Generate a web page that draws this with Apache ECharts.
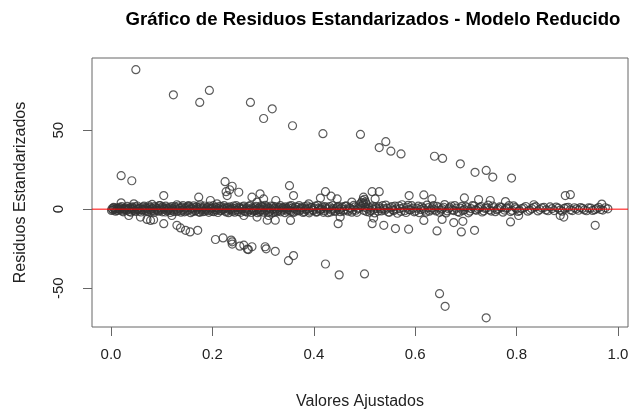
<!DOCTYPE html>
<html>
<head>
<meta charset="utf-8">
<script src="https://cdn.jsdelivr.net/npm/echarts@6.0.0/dist/echarts.min.js"></script>
<style>
  html, body { margin: 0; padding: 0; background: #fff; }
  #myChart { width: 633px; height: 415px; }
</style>
</head>
<body>
<div id="myChart"></div>
<script>
// fitted value, standardized residual
var bandLeft = [
  [0.002,0.3],[0.004,-0.5],[0.006,0.8],[0.008,-0.2],[0.010,0.5],[0.012,-0.9],[0.014,0.1],[0.016,1.2],
  [0.018,-0.4],[0.020,0.6],[0.022,-1.1],[0.025,0.2],[0.027,-0.3],[0.029,0.9],[0.031,-0.7],[0.034,0.4],
  [0.036,-1.4],[0.038,1.0],[0.041,-0.1],[0.043,0.7],[0.046,-0.8],[0.048,1.5],[0.051,-0.3],[0.053,0.2],
  [0.056,-1.2],[0.058,0.8],[0.061,-0.5],[0.063,1.3],[0.066,0.0],[0.068,-0.9],[0.071,0.5],[0.073,-1.6],
  [0.076,1.1],[0.078,-0.2],[0.081,0.6],[0.084,-1.0],[0.086,1.7],[0.089,-0.4],[0.091,0.3],[0.094,-1.3],
  [0.097,0.9],[0.099,-0.6],[0.102,1.4],[0.105,-0.1],[0.107,-1.8],[0.110,0.7],[0.113,-0.3],[0.115,1.2],
  [0.118,-0.9],[0.121,0.4],[0.124,-1.5],[0.126,1.6],[0.129,0.0],[0.132,-0.7],[0.135,0.8],[0.138,-1.9],
  [0.140,1.3],[0.143,-0.4],[0.146,0.5],[0.149,-1.1],[0.152,1.8],[0.155,-0.2],[0.158,0.6],[0.161,-1.4],
  [0.164,1.0],[0.167,-0.8],[0.170,0.2],[0.173,-1.7],[0.176,1.5],[0.179,-0.5],[0.182,0.9],[0.185,-1.2],
  [0.188,0.3],[0.191,-0.9],[0.194,1.9],[0.197,-0.1],[0.200,0.7],[0.203,-1.6],[0.206,1.1],[0.209,-0.6],
  [0.212,0.4],[0.215,-1.0],[0.218,1.6],[0.221,-0.3],[0.224,0.8],[0.227,-1.8],[0.230,1.2],[0.233,-0.4],
  [0.236,0.2],[0.239,-1.3],[0.242,2.0],[0.245,-0.7],[0.248,0.9],[0.251,-1.5],[0.254,0.5],[0.257,-0.2],
  [0.260,1.4],[0.263,-1.1],[0.266,0.1],[0.269,-1.9],[0.272,1.7],[0.275,-0.5],[0.278,0.6],[0.281,-1.2],
  [0.284,1.0],[0.287,-0.8],[0.290,0.3],[0.293,-1.6],[0.296,2.1],[0.299,-0.3],[0.302,0.8],[0.305,-1.0],
  [0.308,1.3],[0.311,-2.0],[0.314,0.4],[0.317,-0.6],[0.320,1.8],[0.323,-1.4],[0.326,0.0],[0.329,-0.9],
  [0.332,1.1],[0.335,-1.7],[0.338,0.6],[0.341,-0.2],[0.344,1.5],[0.347,-1.2],[0.350,0.9],[0.353,-0.7],
  [0.356,2.2],[0.359,-1.8],[0.362,0.3],[0.366,-0.4],[0.369,1.2],[0.372,-1.1],[0.375,0.7],[0.379,-2.1],
  [0.382,1.6],[0.385,-0.5],[0.389,0.2],[0.392,-1.3],[0.396,1.0],[0.399,-0.8],[0.403,1.9],[0.406,-1.6],
  [0.410,0.5],[0.413,-0.1],[0.417,1.4],[0.420,-1.0],[0.424,0.8],[0.428,-2.2],[0.431,1.7],[0.435,-0.6],
  [0.438,0.3],[0.442,-1.4],[0.446,1.1],[0.450,-0.3]
];

var bandLeft2 = [
  [0.001,-0.8],[0.005,1.1],[0.009,-1.3],[0.013,0.7],[0.017,-0.1],[0.021,1.6],[0.024,-1.7],[0.028,0.4],
  [0.032,1.8],[0.035,-0.2],[0.039,-1.9],[0.042,1.4],[0.045,0.1],[0.049,-1.4],[0.052,2.0],[0.055,0.5],
  [0.059,-1.8],[0.062,-0.2],[0.065,1.9],[0.069,0.9],[0.072,-0.6],[0.075,2.1],[0.079,-1.3],[0.082,0.1],
  [0.085,-2.0],[0.088,1.0],[0.092,-0.9],[0.095,2.2],[0.098,0.2],[0.101,-1.7],[0.104,0.6],[0.108,1.9],
  [0.111,-1.1],[0.114,0.3],[0.117,-2.1],[0.120,1.7],[0.123,-0.5],[0.127,0.9],[0.130,-1.4],[0.133,2.0],
  [0.136,0.4],[0.139,-0.9],[0.142,2.2],[0.145,-1.7],[0.148,0.9],[0.151,-0.6],[0.154,1.3],[0.157,-2.2],
  [0.160,0.2],[0.163,2.1],[0.166,-1.2],[0.169,1.4],[0.172,0.8],[0.175,-2.0],[0.178,0.3],[0.181,-1.6],
  [0.184,2.0],[0.187,-0.4],[0.190,1.2],[0.193,-2.0],[0.196,0.6],[0.199,-1.3],[0.202,2.2],[0.205,-0.3],
  [0.208,0.9],[0.211,-2.1],[0.214,1.8],[0.217,-0.7],[0.220,0.2],[0.223,2.3],[0.226,-1.2],[0.229,0.5],
  [0.232,-2.2],[0.235,1.5],[0.238,-0.2],[0.241,0.7],[0.244,-1.9],[0.247,2.2],[0.250,-0.4],[0.253,1.3],
  [0.256,-2.0],[0.259,0.4],[0.262,2.0],[0.265,-1.5],[0.268,0.8],[0.271,-0.6],[0.274,2.3],[0.277,-2.1],
  [0.280,0.2],[0.283,-0.9],[0.286,1.8],[0.289,-2.2],[0.292,0.9],[0.295,-0.5],[0.298,1.4],[0.301,-1.9],
  [0.304,2.4],[0.307,-0.2],[0.310,0.7],[0.313,-1.4],[0.316,2.0],[0.319,-2.3],[0.322,0.4],[0.325,1.5],
  [0.328,-1.6],[0.331,0.1],[0.334,2.2],[0.337,-0.7],[0.340,1.0],[0.343,-2.2],[0.346,0.5],[0.349,-0.3],
  [0.352,1.9],[0.355,-1.4],[0.358,0.8],[0.361,-2.0],[0.364,1.5],[0.367,-1.0],[0.371,2.3],[0.374,-0.2],
  [0.377,0.9],[0.381,-1.6],[0.384,0.3],[0.387,2.1],[0.391,-2.3],[0.394,1.2],[0.398,-0.4],[0.401,0.6],
  [0.405,-1.9],[0.408,2.4],[0.412,-0.8],[0.415,0.2],[0.419,-2.0],[0.422,1.6],[0.426,-0.1],[0.429,0.9],
  [0.433,-1.8],[0.437,2.2],[0.440,-0.9],[0.444,0.4],[0.448,1.8]
];

var bandRight = [
  [0.454,0.6],[0.458,-1.2],[0.462,1.8],[0.466,-0.4],[0.470,0.9],[0.475,-1.9],[0.479,2.4],[0.483,-0.7],
  [0.487,0.2],[0.491,3.1],[0.494,4.2],[0.496,5.5],[0.498,3.8],[0.500,6.2],[0.502,4.6],[0.504,-1.5],
  [0.508,1.3],[0.512,-0.8],[0.516,2.0],[0.520,-2.4],[0.524,0.5],[0.529,1.6],[0.533,-1.1],[0.538,0.3],
  [0.542,2.6],[0.547,-1.8],[0.551,0.9],[0.556,-0.5],[0.560,1.9],[0.565,-2.6],[0.570,0.4],[0.574,2.8],
  [0.579,-1.0],[0.584,1.2],[0.588,-0.3],[0.593,2.2],[0.598,-1.7],[0.603,0.6],[0.608,-2.2],[0.613,1.5],
  [0.618,-0.6],[0.623,2.5],[0.628,-1.3],[0.633,0.8],[0.638,-0.2],[0.643,1.8],[0.648,-2.0],[0.653,0.3],
  [0.658,2.9],[0.663,-1.1],[0.668,1.0],[0.673,-0.5],[0.678,2.3],[0.684,-1.6],[0.689,0.7],[0.694,-0.9],
  [0.700,1.6],[0.705,-2.3],[0.710,0.4],[0.716,2.0],[0.721,-0.7],[0.727,1.1],[0.732,-1.8],[0.738,0.5],
  [0.744,2.6],[0.750,-1.2],[0.755,0.9],[0.761,-0.3],[0.767,1.5],[0.773,-1.9],[0.779,0.6],[0.785,2.3],
  [0.791,-0.8],[0.797,1.0],[0.803,-1.4],[0.810,0.4],[0.818,1.7],[0.826,-0.6],[0.834,1.2],[0.842,-1.1],
  [0.850,0.8],[0.858,-0.5],[0.866,1.4],[0.874,-0.9],[0.882,0.6],[0.890,-1.3],[0.898,1.0],[0.906,-0.4],
  [0.914,0.9],[0.922,-0.7],[0.930,0.5],[0.938,-1.0],[0.946,0.7],[0.954,-0.3],[0.962,1.1],[0.970,-0.6],
  [0.980,0.2]
];

var bandRight2 = [
  [0.452,-1.6],[0.456,1.4],[0.460,-0.2],[0.464,2.1],[0.468,-1.3],[0.472,0.5],[0.477,-0.6],[0.481,1.5],
  [0.485,-2.0],[0.489,0.8],[0.493,1.9],[0.497,2.6],[0.499,-0.8],[0.501,1.2],[0.503,3.4],[0.506,0.3],
  [0.510,-1.9],[0.514,0.9],[0.518,-0.1],[0.522,1.4],[0.527,-1.2],[0.531,0.3],[0.536,2.2],[0.540,-0.7],
  [0.545,0.6],[0.549,-2.0],[0.554,1.6],[0.558,-0.9],[0.563,0.2],[0.568,2.0],[0.572,-1.4],[0.577,0.9],
  [0.582,-2.1],[0.586,2.4],[0.591,-0.5],[0.596,0.7],[0.601,-1.2],[0.606,1.9],[0.611,-0.2],[0.616,0.5],
  [0.621,-1.9],[0.626,1.0],[0.631,-0.4],[0.636,2.2],[0.641,-1.1],[0.646,0.9],[0.651,-0.6],[0.656,1.2],
  [0.661,-2.4],[0.666,0.2],[0.671,2.0],[0.676,-0.9],[0.681,0.6],[0.687,-2.0],[0.692,1.8],[0.697,-0.3],
  [0.703,0.9],[0.708,-1.3],[0.713,2.2],[0.719,-0.4],[0.724,0.3],[0.730,1.7],[0.735,-1.1],[0.741,0.8],
  [0.747,-0.5],[0.753,2.0],[0.758,-1.6],[0.764,0.3],[0.770,1.1],[0.776,-0.6],[0.782,0.9],[0.788,-1.5],
  [0.794,2.1],[0.800,0.2],[0.806,-0.9],[0.814,0.8],[0.822,-1.3],[0.830,0.3],[0.838,1.6],[0.846,-0.2],
  [0.854,1.1],[0.862,-1.0],[0.870,0.4],[0.878,1.3],[0.886,-0.6],[0.894,0.5],[0.902,1.2],[0.910,-0.9],
  [0.918,0.2],[0.926,1.0],[0.934,-0.5],[0.942,0.8],[0.950,-0.8],[0.958,0.4],[0.966,-0.2],[0.975,0.9]
];

var midScatter = [
  [0.020,4.0],[0.045,3.4],[0.081,3.0],[0.104,8.6],[0.097,2.3],[0.130,2.8],[0.173,7.6],[0.176,2.8],
  [0.196,5.5],[0.209,3.4],[0.153,2.3],[0.227,11.1],[0.229,8.6],[0.252,10.7],[0.278,7.6],[0.288,4.5],
  [0.301,6.5],[0.035,-4.0],[0.058,-5.0],[0.071,-6.5],[0.078,-7.1],[0.084,-6.7],[0.104,-9.2],[0.120,-4.0],
  [0.130,-10.2],[0.137,-11.9],[0.147,-13.4],[0.156,-14.4],[0.171,-13.4],[0.262,-4.0],[0.288,-5.0],
  [0.308,-7.0],[0.020,21.2],[0.041,18.0],[0.225,17.4],[0.239,14.5],[0.234,12.3],
  [0.294,9.7],[0.325,5.5],[0.311,-4.0],[0.324,-7.0],[0.352,14.9],[0.360,8.6],[0.354,-7.1],[0.390,3.4],
  [0.413,7.0],[0.423,11.1],[0.434,8.2],[0.446,6.5],[0.448,-9.2],[0.452,-5.0],[0.475,4.5],[0.498,7.6],
  [0.515,11.1],[0.529,11.1],[0.521,6.5],[0.515,-9.2],[0.538,-10.2],[0.518,-5.6],[0.561,-12.3],
  [0.587,-12.7],[0.588,8.6],[0.617,9.0],[0.633,6.5],[0.617,-7.1],[0.643,-13.8],[0.653,-6.5],
  [0.676,-8.5],[0.694,-7.7],[0.691,-14.4],[0.717,-13.4],[0.697,7.1],[0.725,6.1],[0.748,5.5],
  [0.778,4.8],[0.834,2.8],[0.896,8.6],[0.906,9.2],[0.968,3.2],[0.788,-8.1],[0.804,-4.0],
  [0.886,-4.0],[0.893,-5.0],[0.955,-10.2]
];

var upperOutliers = [
  [0.049,88.3],[0.123,72.4],[0.175,67.6],[0.194,75.2],[0.275,67.6],[0.301,57.4],[0.318,63.5],
  [0.358,52.8],[0.418,47.8],[0.492,47.3],[0.529,39.0],[0.542,42.7],[0.552,36.7],[0.572,35.0],
  [0.638,33.5],[0.654,32.1],[0.689,28.7],[0.718,23.3],[0.740,24.5],[0.753,20.3],[0.790,19.7]
];

var lowerOutliers = [
  [0.206,-19.2],[0.221,-18.2],[0.237,-19.6],[0.239,-22.1],[0.254,-23.4],[0.269,-25.3],[0.271,-25.6],
  [0.306,-25.1],[0.324,-26.7],[0.350,-32.6],[0.360,-29.4],[0.423,-34.7],[0.450,-41.6],[0.500,-41.0],
  [0.648,-53.5],[0.659,-61.5],[0.740,-68.8],[0.239,-20.7],[0.262,-22.8],[0.278,-23.8],[0.304,-23.8]
];

var xTicks = [0, 0.2, 0.4, 0.6, 0.8, 1.0];
var yTicks = [-50, 0, 50];
var xRange = [-0.0375, 1.0197];
var yRange = [-74.6, 95.7];
var refLineY = 0;

var allPoints = bandLeft.concat(bandLeft2, bandRight, bandRight2, midScatter, upperOutliers, lowerOutliers);

var myChart = echarts.init(document.getElementById('myChart'));

var option = {
  animation: false,
  textStyle: { fontFamily: 'Liberation Sans, Arial, sans-serif' },
  title: {
    text: 'Gráfico de Residuos Estandarizados - Modelo Reducido',
    left: 368,
    top: 5,
    textAlign: 'center',
    textStyle: { fontSize: 18.6, fontWeight: 'bold', color: '#000' }
  },
  grid: {
    show: true,
    left: 92,
    right: 5,
    top: 58,
    bottom: 86,
    borderColor: '#666',
    borderWidth: 1,
    backgroundColor: '#fff'
  },
  xAxis: {
    type: 'value',
    min: xRange[0],
    max: xRange[1],
    name: 'Valores Ajustados',
    nameLocation: 'middle',
    nameGap: 67,
    nameTextStyle: { fontSize: 16, color: '#222' },
    axisLine: { show: false, onZero: false },
    splitLine: { show: false },
    axisTick: { show: true, length: 9, customValues: xTicks, lineStyle: { color: '#666' } },
    axisLabel: {
      customValues: xTicks,
      margin: 20,
      fontSize: 15,
      color: '#222',
      formatter: function (v) { return v.toFixed(1); }
    }
  },
  yAxis: {
    type: 'value',
    min: yRange[0],
    max: yRange[1],
    name: 'Residuos Estandarizados',
    nameLocation: 'middle',
    nameRotate: 90,
    nameGap: 63,
    nameTextStyle: { fontSize: 16, color: '#222' },
    axisLine: { show: false, onZero: false },
    splitLine: { show: false },
    axisTick: { show: true, length: 9, customValues: yTicks, lineStyle: { color: '#666' } },
    axisLabel: {
      customValues: yTicks,
      rotate: 90,
      margin: 26,
      fontSize: 15,
      color: '#222'
    }
  },
  series: [
    {
      type: 'scatter',
      data: allPoints,
      symbol: 'circle',
      symbolSize: 8,
      itemStyle: { color: 'rgba(0,0,0,0)', borderColor: '#333', borderWidth: 1.2 },
      z: 2
    },
    {
      // abline(h = 0) across the whole plotting region
      type: 'line',
      data: [[xRange[0], refLineY], [xRange[1], refLineY]],
      symbol: 'none',
      silent: true,
      lineStyle: { color: '#ff0000', width: 1 },
      itemStyle: { color: '#ff0000' },
      z: 10
    }
  ]
};

myChart.setOption(option);
</script>
</body>
</html>
